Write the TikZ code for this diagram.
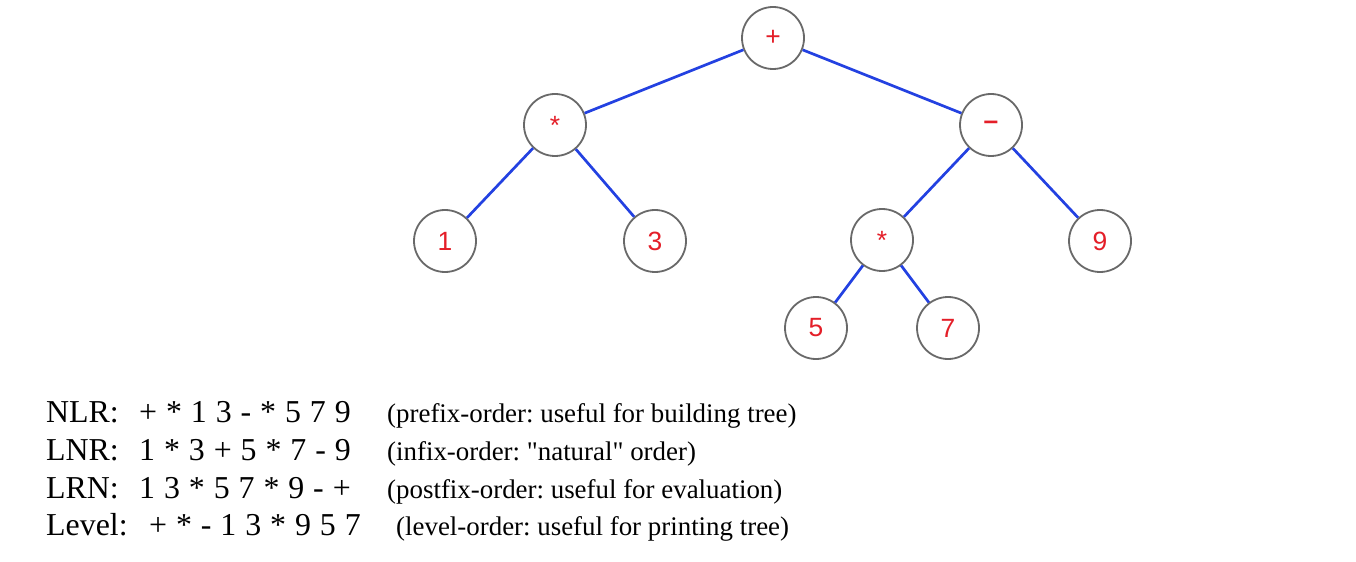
\documentclass[tikz,border=0pt]{standalone}
\usepackage{fontspec}
\setmainfont{Liberation Serif}
\newfontfamily\treefont{Liberation Sans}
\newfontfamily\quotefont{Liberation Serif}
\frenchspacing
\newcommand\widesp{\spaceskip=0.28em\relax}
\newcommand\sq{{\quotefont"}}
\definecolor{edgeblue}{RGB}{35,65,225}
\definecolor{labred}{RGB}{228,30,40}
\definecolor{ringgray}{RGB}{105,105,105}
\begin{document}
\begin{tikzpicture}[x=1bp,y=-1bp,
  tnode/.style={circle,draw=ringgray,line width=1.8bp,fill=white,minimum size=62bp,inner sep=0pt,
    text=labred,font=\treefont\fontsize{26.5}{26.5}\selectfont},
  tedge/.style={draw=edgeblue,line width=2.7bp},
  txt/.style={anchor=base west,inner sep=0pt,font=\fontsize{32}{32}\selectfont},
  note/.style={anchor=base west,inner sep=0pt,font=\fontsize{27}{27}\selectfont}]
\useasboundingbox (0,0) rectangle (1356,562);
% tree
\node[tnode] (plus)  at (773,38)  {+};
\node[tnode] (mulL)  at (555,125) {*};
\node[tnode] (minus) at (991,125) {\bfseries\textendash};
\node[tnode] (one)   at (445,241) {1};
\node[tnode] (three) at (655,241) {3};
\node[tnode] (mulR)  at (882,240) {*};
\node[tnode] (nine)  at (1100,241) {9};
\node[tnode] (five)  at (816,328) {5};
\node[tnode] (seven) at (948,328) {7};
\path[tedge] (plus) -- (mulL);
\path[tedge] (plus) -- (minus);
\path[tedge] (mulL) -- (one);
\path[tedge] (mulL) -- (three);
\path[tedge] (minus) -- (mulR);
\path[tedge] (minus) -- (nine);
\path[tedge] (mulR) -- (five);
\path[tedge] (mulR) -- (seven);
% text
\node[txt] (l1) at (46,422) {NLR:};
\node[txt] (e1) at (139,422) {\widesp + * 1 3 - * 5 7 9};
\node[note] (n1) at (387,422) {(prefix-order: useful for building tree)};
\node[txt] (l2) at (46,460) {LNR:};
\node[txt] (e2) at (139,460) {\widesp 1 * 3 + 5 * 7 - 9};
\node[note] (n2) at (387,460) {(infix-order: \sq natural\sq\ order)};
\node[txt] (l3) at (46,498) {LRN:};
\node[txt] (e3) at (139,498) {\widesp 1 3 * 5 7 * 9 - +};
\node[note] (n3) at (387,498) {(postfix-order: useful for evaluation)};
\node[txt] (l4) at (46,535) {Level:};
\node[txt] (e4) at (149,535) {\widesp + * - 1 3 * 9 5 7};
\node[note] (n4) at (396,535) {(level-order: useful for printing tree)};
\end{tikzpicture}
\end{document}
